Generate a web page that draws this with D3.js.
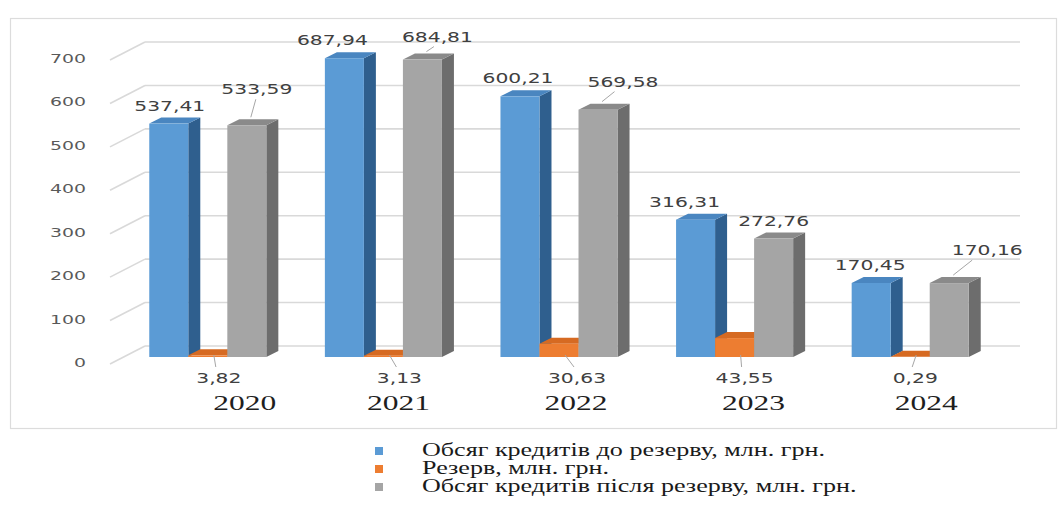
<!DOCTYPE html>
<html><head><meta charset="utf-8">
<script src="https://cdn.jsdelivr.net/npm/d3@7"></script>
<style>
html,body{margin:0;padding:0;background:#fff;}
svg{display:block;}
</style></head>
<body>
<svg id="chart" width="1061" height="505"></svg>
<script>
// ---- data ----
const years = ["2020", "2021", "2022", "2023", "2024"];
const seriesNames = [
  "Обсяг кредитів до резерву, млн. грн.",
  "Резерв, млн. грн.",
  "Обсяг кредитів після резерву, млн. грн."
];
const beforeReserve = [537.41, 687.94, 600.21, 316.31, 170.45];
const reserve = [3.82, 3.13, 30.63, 43.55, 0.29];
const afterReserve = [533.59, 684.81, 569.58, 272.76, 170.16];
const yTicks = [0, 100, 200, 300, 400, 500, 600, 700];

// ---- layout / style ----
const colors = [
  {front: "#5b9bd5", side: "#2f5f8e", top: "#4a86c0"},
  {front: "#ed7d31", side: "#b55a1e", top: "#d66a22"},
  {front: "#a5a5a5", side: "#6d6d6d", top: "#8a8a8a"}
];
const depthX = 12, depthY = -6;
const SX = 1.45; // horizontal stretch of the picture's text
// label nudges (manual positions in the original)
const blueNudgeX = [1, -12, -2, -11, -1];
const grayNudgeX = [10, 15, 25, 0, 38];
const grayLift = [36, 23, 28, 18, 33];
const orangeNudgeX = [11, 16, 18, 10, 5];
const yearNudgeX = [37, 15, 17, 19, 16];

const svg = d3.select("#chart");
const fmt = v => d3.format(".2f")(v).replace(".", ",");

const x = d3.scaleBand().domain(years).range([120, 998]).paddingInner(1/3).paddingOuter(1/6);
const xi = d3.scaleBand().domain([0, 1, 2]).range([0, x.bandwidth()]);
const y = d3.scaleLinear().domain([0, 700]).range([357, 53]);

// border
svg.append("rect").attr("x", 10.5).attr("y", 18.5).attr("width", 1046).attr("height", 410)
  .attr("fill", "none").attr("stroke", "#dcdcdc").attr("stroke-width", 1.2);

// gridlines (back wall) + diagonals
const grid = svg.append("g");
yTicks.forEach(t => {
  const yy = y(t);
  grid.append("line").attr("x1", 145).attr("x2", 1020).attr("y1", yy - 11).attr("y2", yy - 11)
    .attr("stroke", "#d9d9d9").attr("stroke-width", 1.6);
  grid.append("line").attr("x1", 110).attr("x2", 145).attr("y1", yy + 7).attr("y2", yy - 11)
    .attr("stroke", "#d9d9d9").attr("stroke-width", 1.6);
});

// y axis labels
const yAxis = svg.append("g");
yTicks.forEach(t => {
  yAxis.append("text").attr("transform", `translate(86,${y(t) + 10}) scale(${SX},1)`)
    .attr("text-anchor", "end").attr("font-family", "DejaVu Sans").attr("font-size", 13)
    .attr("fill", "#595959").text(d3.format("d")(t));
});

// bars
const series = [beforeReserve, reserve, afterReserve];
const barsG = svg.append("g");
years.forEach((yr, i) => {
  series.forEach((vals, s) => {
    const x0 = x(yr) + xi(s), w = xi.bandwidth();
    const yt = y(vals[i]), yb = y(0);
    const c = colors[s];
    const g = barsG.append("g");
    g.append("path").attr("d", `M${x0 + w},${yb} L${x0 + w + depthX},${yb + depthY} L${x0 + w + depthX},${yt + depthY} L${x0 + w},${yt} Z`)
      .attr("fill", c.side);
    g.append("path").attr("d", `M${x0},${yt} L${x0 + depthX},${yt + depthY} L${x0 + w + depthX},${yt + depthY} L${x0 + w},${yt} Z`)
      .attr("fill", c.top);
    g.append("rect").attr("x", x0).attr("y", yt).attr("width", w).attr("height", yb - yt).attr("fill", c.front);
  });
});

// value labels
const lbl = svg.append("g").attr("font-family", "DejaVu Sans").attr("font-size", 14).attr("fill", "#404040");
function addLabel(cx, by, text) {
  lbl.append("text").attr("transform", `translate(${cx},${by}) scale(${SX},1)`)
    .attr("text-anchor", "middle").text(text);
}
const leaders = svg.append("g").attr("stroke", "#a6a6a6").attr("stroke-width", 1).attr("fill", "none");
years.forEach((yr, i) => {
  const w = xi.bandwidth();
  const bcx = x(yr) + xi(0) + w / 2;
  addLabel(bcx + blueNudgeX[i], y(beforeReserve[i]) - 13, fmt(beforeReserve[i]));
  const gcx = x(yr) + xi(2) + w / 2;
  const gt = y(afterReserve[i]);
  const glx = gcx + grayNudgeX[i], gly = gt - grayLift[i] + 5;
  addLabel(glx, gly, fmt(afterReserve[i]));
  if (grayLift[i] > 20) {
    leaders.append("line").attr("x1", gcx + 4).attr("y1", gt - 8)
      .attr("x2", gcx + 4 + (glx - gcx) * 0.5).attr("y2", gly + 5);
  }
  const ocx = x(yr) + xi(1) + w / 2;
  const olx = ocx + orangeNudgeX[i];
  addLabel(olx, y(0) + 26, fmt(reserve[i]));
  leaders.append("line").attr("x1", ocx + 6).attr("y1", y(0) - 2).attr("x2", olx - 3).attr("y2", y(0) + 10);
});

// year labels
const xAxis = svg.append("g").attr("transform", "translate(0,392)")
  .call(d3.axisBottom(x).tickSize(0).tickPadding(0));
xAxis.select(".domain").remove();
xAxis.selectAll("text").attr("font-family", "Liberation Serif").attr("font-size", 21)
  .attr("fill", "#1e1e1e").attr("dy", "0.85em")
  .attr("transform", (d, i) => `translate(${yearNudgeX[i]},0) scale(1.5,1)`);

// legend
const legend = svg.append("g");
seriesNames.forEach((name, s) => {
  const cy = 451 + s * 18;
  legend.append("rect").attr("x", 375).attr("y", cy - 4).attr("width", 8).attr("height", 8).attr("fill", colors[s].front);
  legend.append("text").attr("transform", `translate(422,${cy + 5}) scale(${SX},1)`)
    .attr("font-family", "Liberation Serif").attr("font-size", 18).attr("fill", "#1a1a1a").text(name);
});
</script>
</body></html>
